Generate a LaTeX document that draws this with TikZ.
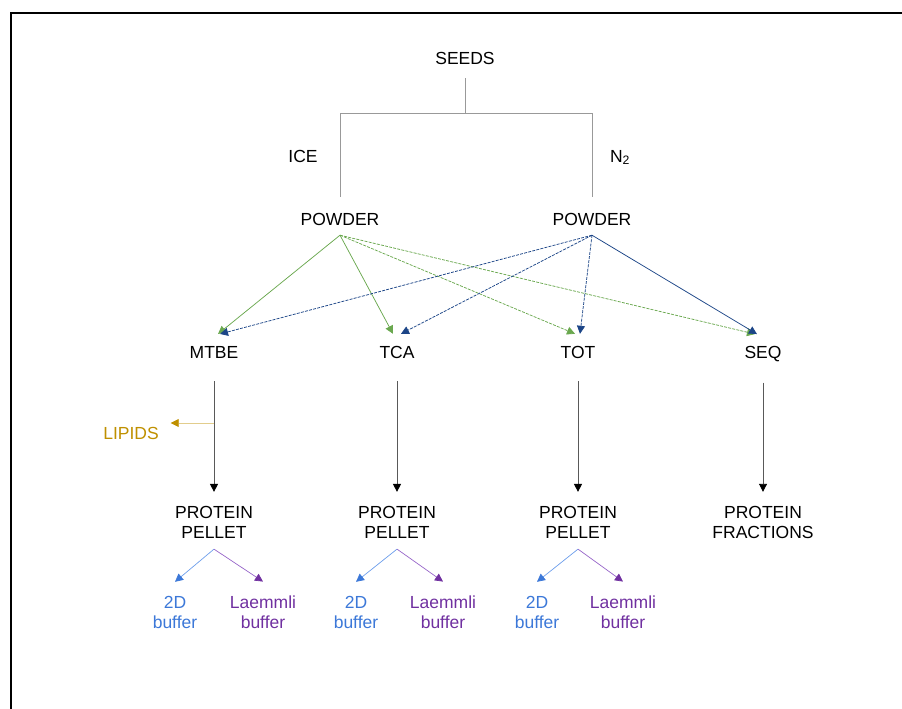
\documentclass[tikz,border=0pt]{standalone}
\usepackage{fontspec}
\setmainfont{Liberation Sans}
\usetikzlibrary{arrows.meta, positioning}
\definecolor{icegreen}{RGB}{106, 168, 79}
\definecolor{nitroblue}{RGB}{28, 69, 135}
\definecolor{lipidgold}{RGB}{191, 144, 0}
\definecolor{bufblue}{RGB}{60, 120, 216}
\definecolor{buflightblue}{RGB}{109, 158, 235}
\definecolor{bufpurple}{RGB}{112, 48, 160}
\definecolor{buflightpurple}{RGB}{150, 100, 200}

\begin{document}
\begin{tikzpicture}[x=1pt, y=-1pt,
        % Global font, Arial-like
        font=\fontsize{17.5}{20}\selectfont,
        % Reusable styles
        txt/.style={inner sep=0pt, outer sep=0pt, align=center},
        tip/.style={-{Triangle[length=8pt, width=8pt]}},
        bracket/.style={line width=0.9pt, black!40},
        fromice/.style={tip, line width=0.75pt, icegreen},
        fromnitro/.style={tip, line width=0.75pt, nitroblue},
        mydash/.style={dash pattern=on 3pt off 1.2pt},
        mysolid/.style={solid},
        extract/.style={-{Triangle[length=8pt, width=8pt, color=black]}, line width=0.9pt, black!65},
        tolipid/.style={-{Triangle[length=8pt, width=8pt, color=lipidgold]}, line width=0.8pt, lipidgold!45},
        to2d/.style={-{Triangle[length=8pt, width=8pt, color=bufblue]}, line width=0.7pt, buflightblue},
        tolaem/.style={-{Triangle[length=8pt, width=8pt, color=bufpurple]}, line width=0.7pt, buflightpurple}
    ]

    \useasboundingbox (0,0) rectangle (902,709);
    \draw[line width=1.8pt] (11,709) -- (11,13) -- (902,13);

    % Top of the tree
    \node[txt] (seeds) at (465,58) {SEEDS};
    \node[txt] (powl) at (340,219) {POWDER};
    \node[txt] (powr) at (592,219) {POWDER};
    \node[txt] (ice) at (303,156) {ICE};
    \node[txt, anchor=base] (nitro) at (620,162) {N\textsubscript{2}};
    \coordinate (split) at (465,113);

    \draw[bracket] ([yshift=-14pt]seeds.south) -- (split);
    \draw[bracket] ([yshift=16pt]powl.north) -- (powl.north |- split)
        -- (powr.north |- split) -- ([yshift=16pt]powr.north);

    % Extraction methods
    \node[txt] (mtbe) at (214,352) {MTBE};
    \node[txt] (tca) at (397,352) {TCA};
    \node[txt] (tot) at (578,352) {TOT};
    \node[txt, anchor=base] (seq) at (763,358.3) {SEQ};

    \foreach \dst/\dx/\ls in {mtbe/4/mysolid, tca/-4/mysolid, tot/-3/mydash, seq/-8/mydash} {
        \draw[fromice, \ls] ([yshift=-10pt]powl.south) -- ([xshift=\dx pt, yshift=12pt]\dst.north);
    }
    \foreach \dst/\dx/\ls in {mtbe/6/mydash, tca/4/mydash, tot/2/mydash, seq/-6/mysolid} {
        \draw[fromnitro, \ls] ([yshift=-10pt]powr.south) -- ([xshift=\dx pt, yshift=12pt]\dst.north);
    }

    % Products
    \node[txt] (pell1) at (214,522) {PROTEIN\\PELLET};
    \node[txt] (pell2) at (397,522) {PROTEIN\\PELLET};
    \node[txt] (pell3) at (578,522) {PROTEIN\\PELLET};
    \node[txt] (frac) at (763,522) {PROTEIN\\FRACTIONS};
    \node[txt, lipidgold] (lipids) at (131,433) {LIPIDS};

    \draw[extract] ([yshift=-23pt]mtbe.south) -- ([yshift=14pt]pell1.north);
    \draw[extract] ([yshift=-23pt]tca.south) -- ([yshift=14pt]pell2.north);
    \draw[extract] ([yshift=-23pt]tot.south) -- ([yshift=14pt]pell3.north);
    \draw[extract] ([yshift=-21pt]seq.south) -- ([yshift=14pt]frac.north);

    \coordinate (lipfork) at (214,423);
    \draw[tolipid] (lipfork) -- ([xshift=12pt, yshift=10pt]lipids.east);

    % Buffers
    \node[txt, bufblue] (twod1) at (175,612) {2D\\buffer};
    \node[txt, bufpurple] (laem1) at (263,612) {Laemmli\\buffer};
    \node[txt, bufblue] (twod2) at (356,612) {2D\\buffer};
    \node[txt, bufpurple] (laem2) at (443,612) {Laemmli\\buffer};
    \node[txt, bufblue] (twod3) at (537,612) {2D\\buffer};
    \node[txt, bufpurple] (laem3) at (623,612) {Laemmli\\buffer};

    \foreach \n in {1,2,3} {
        \draw[to2d] ([yshift=-11pt]pell\n.south) -- ([yshift=14pt]twod\n.north);
        \draw[tolaem] ([yshift=-11pt]pell\n.south) -- ([yshift=14pt]laem\n.north);
    }

\end{tikzpicture}
\end{document}
